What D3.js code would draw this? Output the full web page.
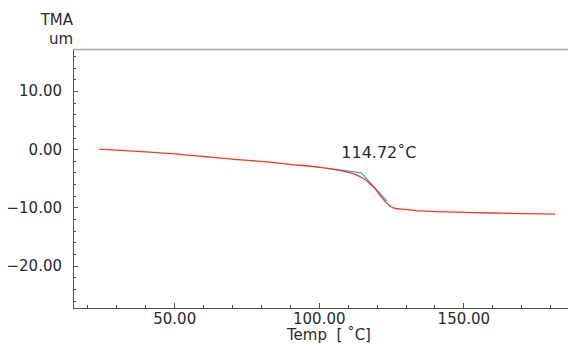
<!DOCTYPE html>
<html>
<head>
<meta charset="utf-8">
<script src="https://cdn.jsdelivr.net/npm/d3@7"></script>
<style>
  html, body { margin: 0; padding: 0; background: #fff; }
  svg { display: block; font-family: "DejaVu Sans", Verdana, sans-serif; }
</style>
</head>
<body>
<div class="graph-container"></div>
<script>
// chart data
const temps = [24, 30, 40, 50, 60, 70, 80, 90, 100, 105, 110, 113, 115, 117, 118, 119, 121, 123, 124.5, 126, 128, 131.6, 135, 140, 150, 160, 170, 181.8];
const values = [0, -0.15, -0.45, -0.8, -1.25, -1.7, -2.1, -2.6, -3.1, -3.45, -3.95, -4.4, -4.9, -5.6, -6.1, -6.5, -7.8, -9.0, -9.7, -10.1, -10.25, -10.4, -10.6, -10.7, -10.85, -10.95, -11.05, -11.15];
// onset tangent lines
const tangentTemps = [103, 114.72, 123.5];
const tangentValues = [-3.3, -4.05, -8.9];
const onsetLabel = '114.72˚C';

const xMajor = [50, 100, 150];
const xMinor = [20, 30, 40, 50, 60, 70, 80, 90, 100, 110, 120, 130, 140, 150, 160, 170, 180];
const yMajor = [-20, -10, 0, 10];
const yMinor = d3.range(-26, 17, 2);

// svg parameters
const w = 568;
const h = 345;
const padLeft = 73;
const padTop = 49;
const axisY = 308;
const textColor = '#2a2a2a';

const svg = d3.select('.graph-container')
  .append('svg')
  .attr('width', w)
  .attr('height', h);

const x = d3.scaleLinear([15, 186.2], [padLeft, w]);
const y = d3.scaleLinear([-27.26, 17.2], [axisY, padTop]);

// top frame line
svg.append('line')
  .attr('x1', padLeft).attr('x2', w)
  .attr('y1', padTop + 0.5).attr('y2', padTop + 0.5)
  .attr('stroke', '#a8a8a8')
  .attr('stroke-width', 1.5);

function styleAxis(g) {
  g.selectAll('path, line').attr('stroke', '#555').attr('shape-rendering', 'crispEdges');
  g.selectAll('text').attr('fill', textColor).attr('font-size', 15)
    .attr('font-family', '"DejaVu Sans", Verdana, sans-serif');
}

// minor ticks
svg.append('g')
  .attr('transform', `translate(0, ${axisY})`)
  .call(d3.axisBottom(x).tickValues(xMinor).tickSize(-3).tickSizeOuter(0).tickFormat(''))
  .call(styleAxis);
svg.append('g')
  .attr('transform', `translate(${padLeft}, 0)`)
  .call(d3.axisLeft(y).tickValues(yMinor).tickSize(-3).tickSizeOuter(0).tickFormat(''))
  .call(styleAxis);

// major ticks + labels
svg.append('g')
  .attr('transform', `translate(0, ${axisY})`)
  .call(d3.axisBottom(x).tickValues(xMajor).tickSize(-5).tickSizeOuter(0)
    .tickPadding(5).tickFormat(d3.format('.2f')))
  .call(styleAxis);
svg.append('g')
  .attr('transform', `translate(${padLeft}, 0)`)
  .call(d3.axisLeft(y).tickValues(yMajor).tickSize(-5).tickSizeOuter(0)
    .tickPadding(11).tickFormat(d3.format('.2f')))
  .call(styleAxis);

// axis titles
svg.append('text').text('TMA')
  .attr('x', padLeft).attr('y', 25)
  .attr('text-anchor', 'end').attr('font-size', 15).attr('fill', textColor);
svg.append('text').text('um')
  .attr('x', padLeft).attr('y', 44)
  .attr('text-anchor', 'end').attr('font-size', 15).attr('fill', textColor);
svg.append('text').text('Temp  [ ˚C]')
  .attr('x', 287).attr('y', 340)
  .attr('font-size', 15).attr('fill', textColor)
  .style('white-space', 'pre');

const line = d3.line().x((d) => x(d[0])).y((d) => y(d[1]));

// tangent lines
svg.append('path')
  .datum(tangentTemps.map((t, i) => [t, tangentValues[i]]))
  .attr('d', line)
  .attr('fill', 'none')
  .attr('stroke', '#3aa6d6')
  .attr('stroke-width', 1.4);

// measured curve
svg.append('path')
  .datum(temps.map((t, i) => [t, values[i]]))
  .attr('d', line.curve(d3.curveMonotoneX))
  .attr('fill', 'none')
  .attr('stroke', '#f03a24')
  .attr('stroke-width', 1.3);

// onset label
svg.append('text').text(onsetLabel)
  .attr('x', x(114.72) - 20).attr('y', 158)
  .attr('font-size', 16).attr('fill', textColor);
</script>
</body>
</html>
